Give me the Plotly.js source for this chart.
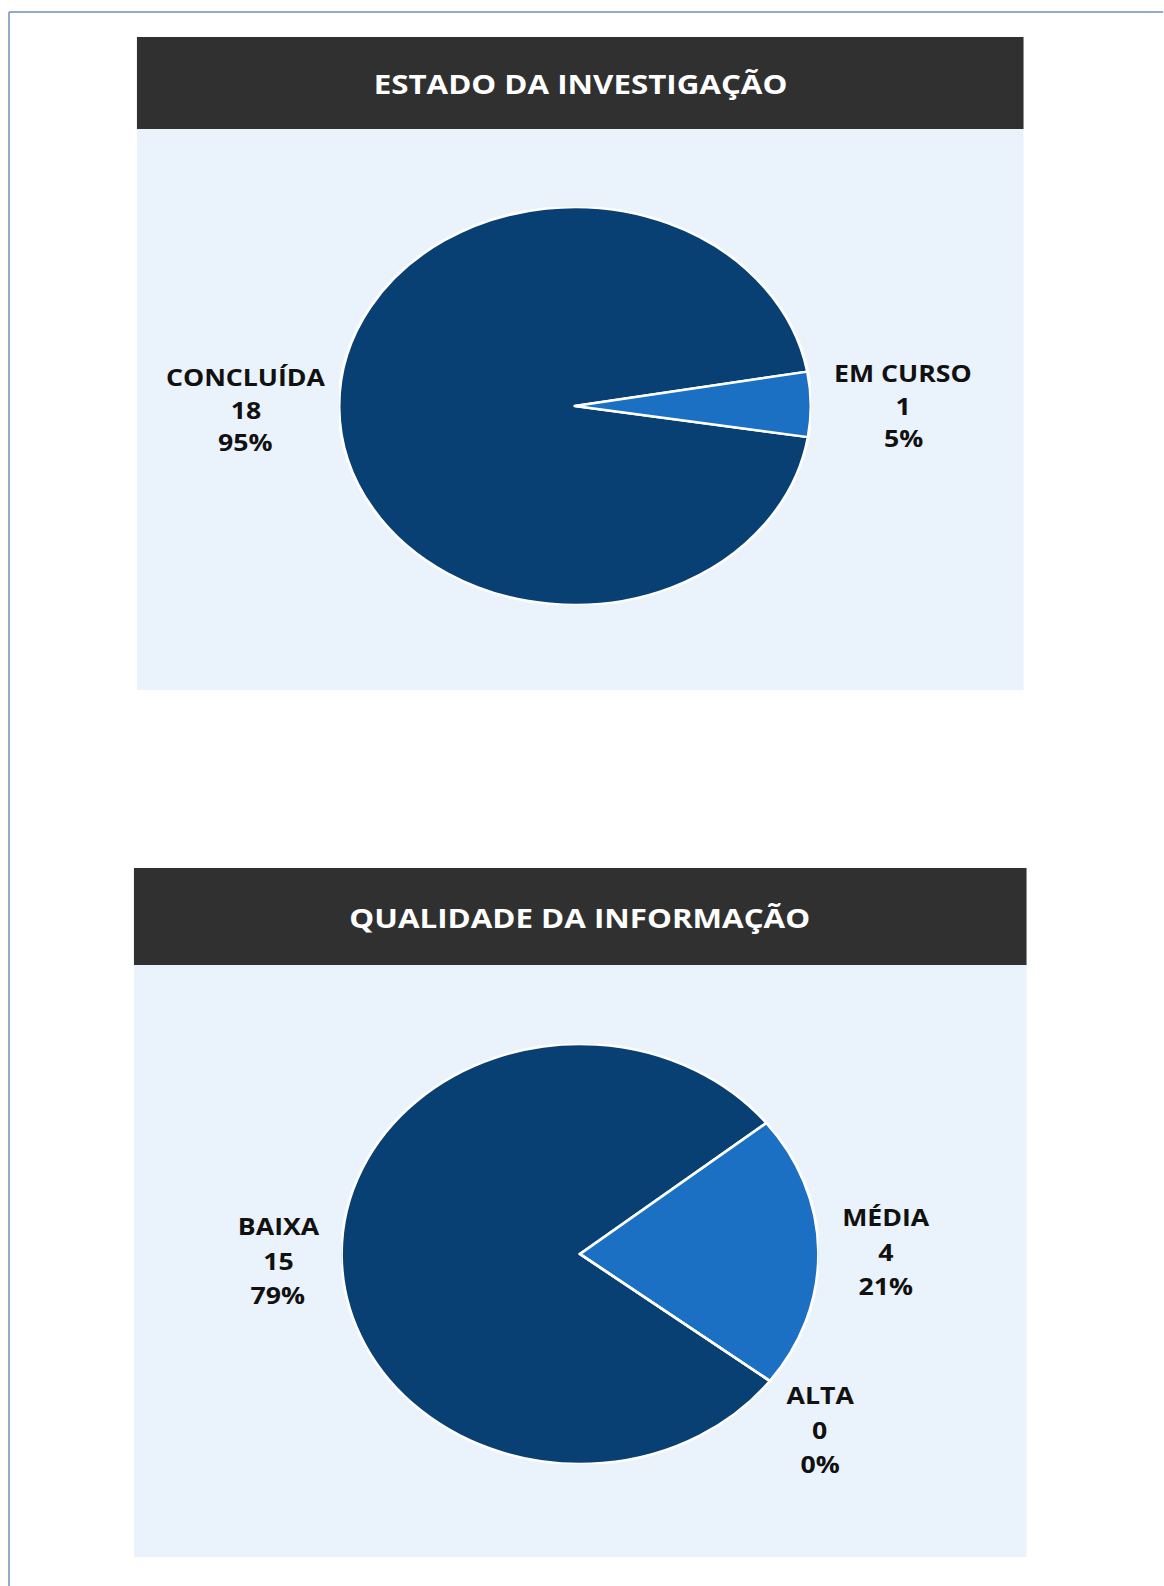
<!DOCTYPE html>
<html>
<head>
<meta charset="utf-8">
<script src="https://cdn.plot.ly/plotly-3.0.1.min.js"></script>
<style>
  html, body { margin: 0; padding: 0; background: #ffffff; }
  #page { position: relative; width: 1164px; height: 1586px; overflow: hidden; }
  #bg { position: absolute; left: 0; top: 0; }
  .pie { position: absolute; }
</style>
</head>
<body>
<div id="page">
  <div id="bg"></div>
  <div id="pie1" class="pie"></div>
  <div id="pie2" class="pie"></div>
</div>
<script>
// ---------- DATA ----------
const title1 = "ESTADO DA INVESTIGAÇÃO";
const labels1 = ["CONCLUÍDA", "EM CURSO"];
const values1 = [18, 1];

const title2 = "QUALIDADE DA INFORMAÇÃO";
const labels2 = ["BAIXA", "MÉDIA", "ALTA"];
const values2 = [15, 4, 0];

// ---------- STYLE / LAYOUT ----------
const colors1 = ["#084074", "#1B70C3"];
const colors2 = ["#084074", "#1B70C3", "#0F5597"];
const headerColor = "#303030";
const bodyColor = "#EAF2FB";
const FONT = "Open Sans, Noto Sans, DejaVu Sans, sans-serif";
const STRETCH = 1.16;   // the source picture is stretched horizontally

const panels = [
  { header: [137, 37, 1024, 129], body: [137, 129, 1024, 690], titleY: 83,
    pie: { cx: 575.4, cy: 406, a: 236, b: 199, rotation: 99 },
    labelPos: [[246, 377], [904, 373]], lineGap: 32.5 },
  { header: [134, 868, 1027, 965], body: [134, 965, 1027, 1557], titleY: 917,
    pie: { cx: 579.5, cy: 1254, a: 238.5, b: 210, rotation: 127.2 },
    labelPos: [[278, 1226], [886, 1217], [820, 1395]], lineGap: 34.5 }
];

const datasets = [
  { title: title1, labels: labels1, values: values1, colors: colors1 },
  { title: title2, labels: labels2, values: values2, colors: colors2 }
];

// ---------- BACKGROUND FIGURE (shapes + text) ----------
const shapes = [
  { type: "line", xref: "x", yref: "y", x0: 9, x1: 1164, y0: 12, y1: 12, line: { color: "#93AACB", width: 2 } },
  { type: "line", xref: "x", yref: "y", x0: 9, x1: 9, y0: 12, y1: 1586, line: { color: "#93AACB", width: 1.7 } }
];
const annotations = [];

datasets.forEach((d, i) => {
  const p = panels[i];
  shapes.push({ type: "rect", xref: "x", yref: "y", layer: "below",
    x0: p.body[0], y0: p.body[1], x1: p.body[2], y1: p.body[3],
    fillcolor: bodyColor, line: { width: 0 } });
  shapes.push({ type: "rect", xref: "x", yref: "y", layer: "below",
    x0: p.header[0], y0: p.header[1], x1: p.header[2], y1: p.header[3],
    fillcolor: headerColor, line: { width: 0 } });
  annotations.push({ xref: "x", yref: "y", x: (p.header[0] + p.header[2]) / 2, y: p.titleY,
    text: "<b>" + d.title + "</b>", showarrow: false, xanchor: "center", yanchor: "middle",
    font: { family: FONT, size: 27, color: "#ffffff" } });
  const total = d.values.reduce((s, v) => s + v, 0);
  d.labels.forEach((lab, j) => {
    const pct = Math.round(d.values[j] / total * 100) + "%";
    const lines = [lab, String(d.values[j]), pct];
    lines.forEach((t, k) => {
      annotations.push({ xref: "x", yref: "y", x: p.labelPos[j][0], y: p.labelPos[j][1] + k * p.lineGap,
        text: "<b>" + t + "</b>", showarrow: false, xanchor: "center", yanchor: "middle",
        font: { family: FONT, size: 23, color: "#111111" } });
    });
  });
});

const bgW = 1164 / STRETCH;
const bgEl = document.getElementById("bg");
bgEl.style.width = bgW + "px";
bgEl.style.height = "1586px";
bgEl.style.transformOrigin = "0 0";
bgEl.style.transform = "scaleX(" + STRETCH + ")";

Plotly.newPlot(bgEl, [], {
  width: bgW, height: 1586,
  margin: { l: 0, r: 0, t: 0, b: 0 },
  paper_bgcolor: "#ffffff", plot_bgcolor: "rgba(0,0,0,0)",
  xaxis: { range: [0, 1164], visible: false, fixedrange: true },
  yaxis: { range: [1586, 0], visible: false, fixedrange: true },
  shapes: shapes, annotations: annotations, showlegend: false
}, { staticPlot: true });

// ---------- PIES ----------
datasets.forEach((d, i) => {
  const pp = panels[i].pie;
  const size = 2 * pp.b;
  const el = document.getElementById("pie" + (i + 1));
  el.style.left = (pp.cx - pp.b) + "px";
  el.style.top = (pp.cy - pp.b) + "px";
  el.style.width = size + "px";
  el.style.height = size + "px";
  el.style.transformOrigin = "50% 50%";
  el.style.transform = "scaleX(" + (pp.a / pp.b) + ")";
  Plotly.newPlot(el, [{
    type: "pie", labels: d.labels, values: d.values, sort: false,
    direction: "clockwise", rotation: pp.rotation,
    marker: { colors: d.colors, line: { color: "#ffffff", width: 2.5 } },
    textinfo: "none", hoverinfo: "none", showlegend: false
  }], {
    width: size, height: size, margin: { l: 0, r: 0, t: 0, b: 0 },
    paper_bgcolor: "rgba(0,0,0,0)", plot_bgcolor: "rgba(0,0,0,0)"
  }, { staticPlot: true });
});
</script>
</body>
</html>
